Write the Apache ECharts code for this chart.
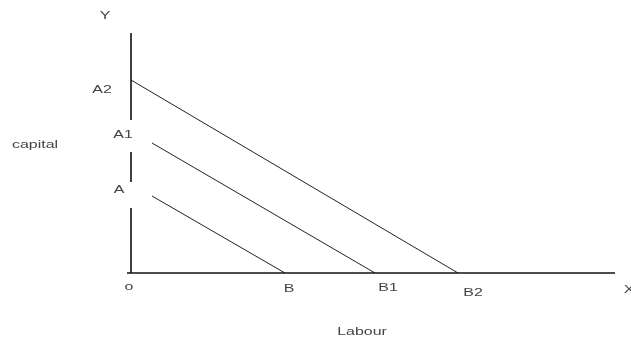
<!DOCTYPE html>
<html><head><meta charset="utf-8">
<script src="https://cdn.jsdelivr.net/npm/echarts@6/dist/echarts.min.js"></script>
<style>html,body{margin:0;padding:0;background:#fff}#c{width:631px;height:339px}</style>
</head><body><div id="c"></div>
<script>
// Budget lines (labour on x, capital on y), units
const lineNames = ['A-B', 'A1-B1', 'A2-B2'];
const lineStarts = [[21, 77], [21, 130], [0, 193]];
const lineEnds = [[154, 0], [244, 0], [327, 0]];
// Broken vertical (capital) axis segments
const yAxisSegments = [[[0, 0], [0, 65]], [[0, 91], [0, 121]], [[0, 153], [0, 240]]];
const xAxisSegment = [[-4, 0], [484, 0]];
// Point labels and their (centre) positions in data units
const pointLabels = ['A2', 'A1', 'A', 'o', 'B', 'B1', 'B2', 'X', 'Y', 'capital', 'Labour'];
const pointLabelPos = [[-29, 183], [-8, 138], [-12, 83], [-2, -14], [158, -16], [257, -15], [342, -20], [498, -17], [-26, 257], [-96, 128], [231, -59]];

const FONT = '11px "Liberation Sans", Arial, sans-serif';
const chart = echarts.init(document.getElementById('c'), null, {renderer: 'canvas'});
const series = [];
lineNames.forEach((n, i) => {
  series.push({type: 'line', name: n, data: [lineStarts[i], lineEnds[i]], symbol: 'none',
    lineStyle: {color: '#222', width: 1}, silent: true});
});
yAxisSegments.forEach(s => {
  series.push({type: 'line', data: s, symbol: 'none', clip: false,
    lineStyle: {color: '#111', width: 1.6}});
});
series.push({type: 'line', data: xAxisSegment, symbol: 'none', clip: false,
  lineStyle: {color: '#111', width: 1.6}});

chart.setOption({
  animation: false,
  grid: {left: 127, right: 16, top: 33, bottom: 66},
  xAxis: {type: 'value', min: -4, max: 484, show: false},
  yAxis: {type: 'value', min: 0, max: 240, show: false},
  series: series
});
const texts = pointLabels.map((t, i) => {
  const p = chart.convertToPixel({gridIndex: 0}, pointLabelPos[i]);
  return {type: 'text', x: p[0], y: p[1], scaleX: 1.45,
    style: {text: t, fill: '#444', font: FONT, textAlign: 'center', textVerticalAlign: 'middle'}};
});
chart.setOption({graphic: texts});
</script></body></html>
